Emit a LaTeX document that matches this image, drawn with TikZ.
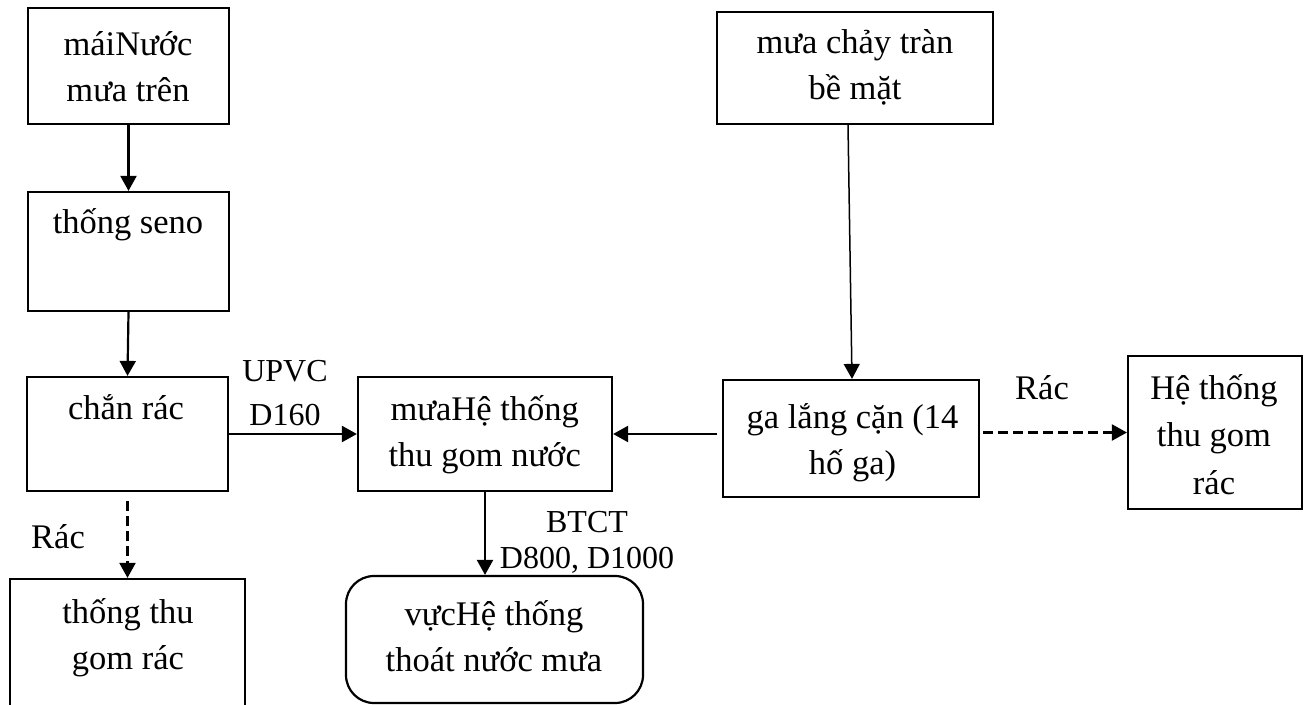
\documentclass[tikz,border=0pt]{standalone}
\usepackage{fontspec}
\setmainfont{Liberation Serif}
\usetikzlibrary{arrows.meta,calc}
\begin{document}
\begin{tikzpicture}[x=1pt,y=-1pt,
  box/.style={draw=black, line width=2.2pt, inner sep=0pt},
  txt/.style={font=\fontsize{34.5}{46}\selectfont, align=center, inner sep=0pt, anchor=north},
  lbl/.style={font=\fontsize{32}{36}\selectfont, inner sep=0pt, anchor=base},
  biglbl/.style={font=\fontsize{34.5}{40}\selectfont, inner sep=0pt, anchor=base},
  flow/.style={line width=2.2pt, -{Triangle[length=15pt,width=16pt]}},
  dflow/.style={flow, dash pattern=on 10pt off 5pt}]
\clip (0,0) rectangle (1305,704);
\fill[white] (0,0) rectangle (1305,704);
% boxes
\node[box, minimum width=201pt, minimum height=116pt] (B1) at (128.5,66) {};
\node[box, minimum width=201pt, minimum height=119pt] (B2) at (128.5,251.5) {};
\node[box, minimum width=201pt, minimum height=114pt] (B3) at (127.5,434) {};
\node[box, minimum width=235pt, minimum height=141pt] (B4) at (127.5,649.5) {};
\node[box, minimum width=254pt, minimum height=114pt] (B5) at (485,434) {};
\node[box, minimum width=297pt, minimum height=127pt, rounded corners=28pt] (B6) at (494.5,639.5) {};
\node[box, minimum width=276pt, minimum height=112pt] (B7) at (855,68) {};
\node[box, minimum width=256pt, minimum height=117pt] (B8) at (851,438.5) {};
\node[box, minimum width=174pt, minimum height=153pt] (B9) at (1215,432.5) {};
% texts
\node[txt] (T1) at (128,22.8) {\strut máiNước\\\strut mưa trên};
\node[txt] (T2) at (128,200.8) {\strut thống seno};
\node[txt] (T3) at (126,386.8) {\strut chắn rác};
\node[txt] (T4) at (128,590.8) {\strut thống thu\\\strut gom rác};
\node[txt] (T5) at (484.7,387.8) {\strut mưaHệ thống\\\strut thu gom nước};
\node[txt] (T6) at (494,592.8) {\strut vựcHệ thống\\\strut thoát nước mưa};
\node[txt] (T7) at (855,20.8) {\strut mưa chảy tràn\\\strut bề mặt};
\node[txt] (T8) at (852.5,395.8) {\strut ga lắng cặn (14\\\strut hố ga)};
\node[txt, font=\fontsize{34.5}{47.5}\selectfont] (T9) at (1214,365.8) {\strut Hệ thống\\\strut thu gom\\\strut rác};
% labels
\node[lbl] (L1a) at (285,381) {UPVC};
\node[lbl] (L1b) at (285,425) {D160};
\node[biglbl] (L2) at (58,548) {Rác};
\node[biglbl] (L3) at (1042,399) {Rác};
\node[lbl] (L4a) at (587,532) {BTCT};
\node[lbl] (L4b) at (587,568) {D800, D1000};
% connectors
\draw[flow] (B1.south) -- (B2.north);
\draw[flow] (B2.south) -- (B3.north);
\draw[dflow, shorten <=9pt] (B3.south) -- (B4.north);
\draw[flow] (B3.east) -- (B5.west);
\draw[flow, shorten <=5pt] (B8.west |- B5.east) -- (B5.east);
\draw[dflow, shorten <=3pt] (B8.east |- B9.west) -- (B9.west);
\draw[flow, line width=1.5pt] ($(B7.south)+(-7,0)$) -- ($(B8.north)+(1,0)$);
\draw[flow] (B5.south) -- (B5.south |- B6.north);
\end{tikzpicture}
\end{document}
